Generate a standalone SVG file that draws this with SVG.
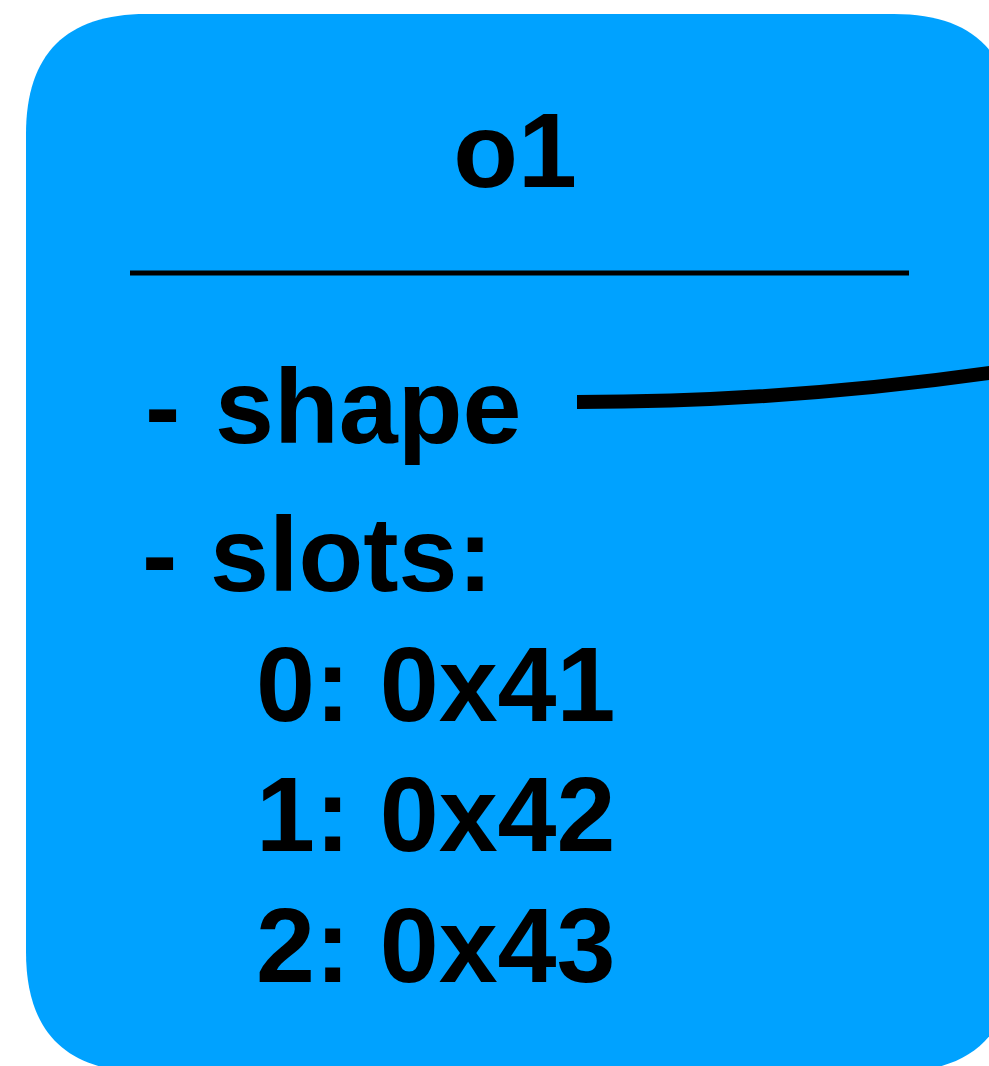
<svg xmlns="http://www.w3.org/2000/svg" width="989" height="1066" viewBox="0 0 989 1066">
  <style>
    .node-fill { fill: #00A2FF; }
    .lbl { font-family: "Liberation Sans", Arial, Helvetica, sans-serif; font-weight: bold; font-size: 106px; fill: #000000; }
    .conn { fill: none; stroke: #000000; stroke-width: 14; stroke-linecap: butt; }
  </style>
  <rect width="989" height="1066" fill="#FFFFFF"/>
  <g id="node-o1">
    <path class="node-fill" d="M146,14 H894 C974,14 1014,54 1014,134 V952 C1014,1032 974,1072 894,1072 H146 C66,1072 26,1032 26,952 V134 C26,54 66,14 146,14 Z"/>
    <text class="lbl" x="515" y="187" text-anchor="middle">o1</text>
    <line x1="130" y1="273" x2="909" y2="273" stroke="#000000" stroke-width="5"/>
    <text class="lbl" x="145" y="443">- <tspan x="215">shape</tspan></text>
    <text class="lbl" x="142" y="591">- <tspan x="210">slots:</tspan></text>
    <text class="lbl" x="256" y="721">0: 0x41</text>
    <text class="lbl" x="256" y="851">1: 0x42</text>
    <text class="lbl" x="256" y="982">2: 0x43</text>
  </g>
  <g id="connectors">
    <path class="conn" d="M577,402 Q800,402 1023,368"/>
  </g>
</svg>
